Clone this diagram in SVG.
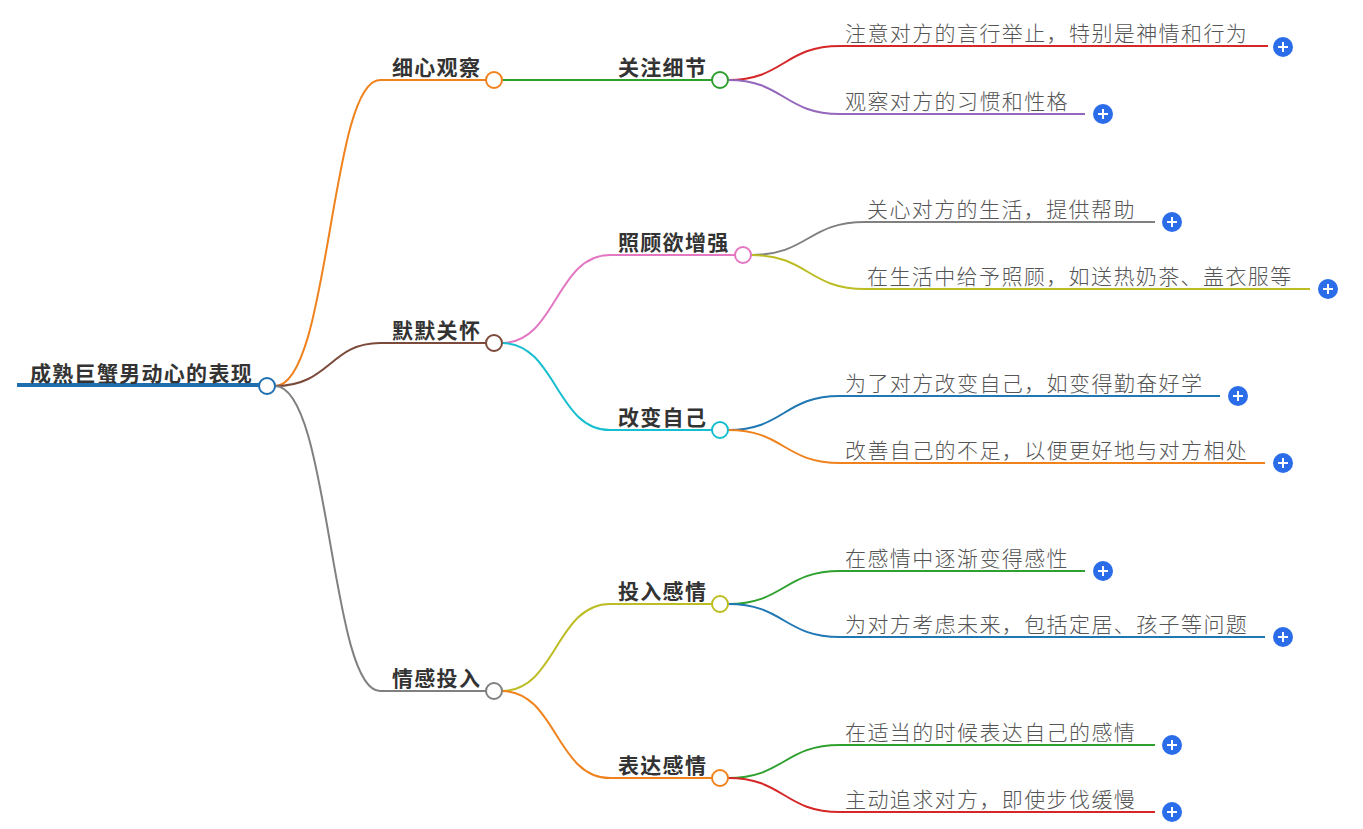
<svg xmlns="http://www.w3.org/2000/svg" width="1363" height="829" viewBox="0 0 1363 829">
<defs>
<style>
.b{font-family:"Noto Sans CJK SC","Noto Sans",sans-serif;font-weight:bold;font-size:21px;letter-spacing:1.3px;fill:#333}
.l{font-family:"Noto Sans CJK SC","Noto Sans",sans-serif;font-weight:300;font-size:21px;letter-spacing:1.4px;fill:#555}
.c{fill:none;stroke-width:2}
.n{fill:#fff;stroke-width:2}
</style>
<g id="plus"><circle r="10" fill="#2b6de8"/><path d="M-5 0H5M0 -5V5" stroke="#fff" stroke-width="2"/></g>
</defs>
<rect width="1363" height="829" fill="#fff"/>
<g id="connectors">
<path class="c" stroke="#f0821e" d="M275 386C330 386 330 80 380 80H486"/>
<path class="c" stroke="#7b4a3a" d="M275 386C330 386 330 343 380 343H486"/>
<path class="c" stroke="#808080" d="M275 386C330 386 330 691 380 691H486"/>
<path class="c" stroke="#2ea02e" d="M502 80H712"/>
<path class="c" stroke="#e377c2" d="M502 343C556 343 556 255 610 255H735"/>
<path class="c" stroke="#17becf" d="M502 343C556 343 556 430 610 430H712"/>
<path class="c" stroke="#bcbd22" d="M502 691C556 691 556 604 610 604H712"/>
<path class="c" stroke="#f0821e" d="M502 691C556 691 556 778 610 778H712"/>
<path class="c" stroke="#d62728" d="M728 80C784 80 784 46 840 46H1268"/>
<path class="c" stroke="#9467bd" d="M728 80C784 80 784 114 840 114H1085"/>
<path class="c" stroke="#808080" d="M751 255C808 255 808 222 865 222H1155"/>
<path class="c" stroke="#bcbd22" d="M751 255C808 255 808 289 865 289H1310"/>
<path class="c" stroke="#1f77b4" d="M728 430C784 430 784 396 840 396H1220"/>
<path class="c" stroke="#f0821e" d="M728 430C784 430 784 463 840 463H1265"/>
<path class="c" stroke="#2ea02e" d="M728 604C784 604 784 571 840 571H1085"/>
<path class="c" stroke="#1f77b4" d="M728 604C784 604 784 637 840 637H1265"/>
<path class="c" stroke="#2ea02e" d="M728 778C784 778 784 745 840 745H1155"/>
<path class="c" stroke="#d62728" d="M728 778C784 778 784 812 840 812H1155"/>
</g>
<g id="root"><path d="M17 385H259" stroke="#1f6fb0" stroke-width="4"/><text class="b" x="30" y="381">成熟巨蟹男动心的表现</text><circle class="n" cx="267" cy="386" r="8" stroke="#1f6fb0"/></g>
<g id="b1"><text class="b" x="392" y="75">细心观察</text><circle class="n" cx="494" cy="80" r="8" stroke="#f0821e"/></g>
<g id="b2"><text class="b" x="392" y="338">默默关怀</text><circle class="n" cx="494" cy="343" r="8" stroke="#7b4a3a"/></g>
<g id="b3"><text class="b" x="392" y="686">情感投入</text><circle class="n" cx="494" cy="691" r="8" stroke="#808080"/></g>
<g id="c1"><text class="b" x="618" y="75">关注细节</text><circle class="n" cx="720" cy="80" r="8" stroke="#2ea02e"/></g>
<g id="c2"><text class="b" x="618" y="250">照顾欲增强</text><circle class="n" cx="743" cy="255" r="8" stroke="#e377c2"/></g>
<g id="c3"><text class="b" x="618" y="425">改变自己</text><circle class="n" cx="720" cy="430" r="8" stroke="#17becf"/></g>
<g id="c4"><text class="b" x="618" y="599">投入感情</text><circle class="n" cx="720" cy="604" r="8" stroke="#bcbd22"/></g>
<g id="c5"><text class="b" x="618" y="773">表达感情</text><circle class="n" cx="720" cy="778" r="8" stroke="#f0821e"/></g>
<g id="l1"><text class="l" x="845" y="41">注意对方的言行举止，特别是神情和行为</text><use href="#plus" x="1283" y="47"/></g>
<g id="l2"><text class="l" x="845" y="109">观察对方的习惯和性格</text><use href="#plus" x="1103" y="114"/></g>
<g id="l3"><text class="l" x="867" y="217">关心对方的生活，提供帮助</text><use href="#plus" x="1172" y="222"/></g>
<g id="l4"><text class="l" x="867" y="284">在生活中给予照顾，如送热奶茶、盖衣服等</text><use href="#plus" x="1328" y="289"/></g>
<g id="l5"><text class="l" x="845" y="391">为了对方改变自己，如变得勤奋好学</text><use href="#plus" x="1238" y="396"/></g>
<g id="l6"><text class="l" x="845" y="458">改善自己的不足，以便更好地与对方相处</text><use href="#plus" x="1283" y="463"/></g>
<g id="l7"><text class="l" x="845" y="566">在感情中逐渐变得感性</text><use href="#plus" x="1103" y="571"/></g>
<g id="l8"><text class="l" x="845" y="632">为对方考虑未来，包括定居、孩子等问题</text><use href="#plus" x="1283" y="637"/></g>
<g id="l9"><text class="l" x="845" y="740">在适当的时候表达自己的感情</text><use href="#plus" x="1172" y="745"/></g>
<g id="l10"><text class="l" x="845" y="807">主动追求对方，即使步伐缓慢</text><use href="#plus" x="1172" y="812"/></g>
</svg>
